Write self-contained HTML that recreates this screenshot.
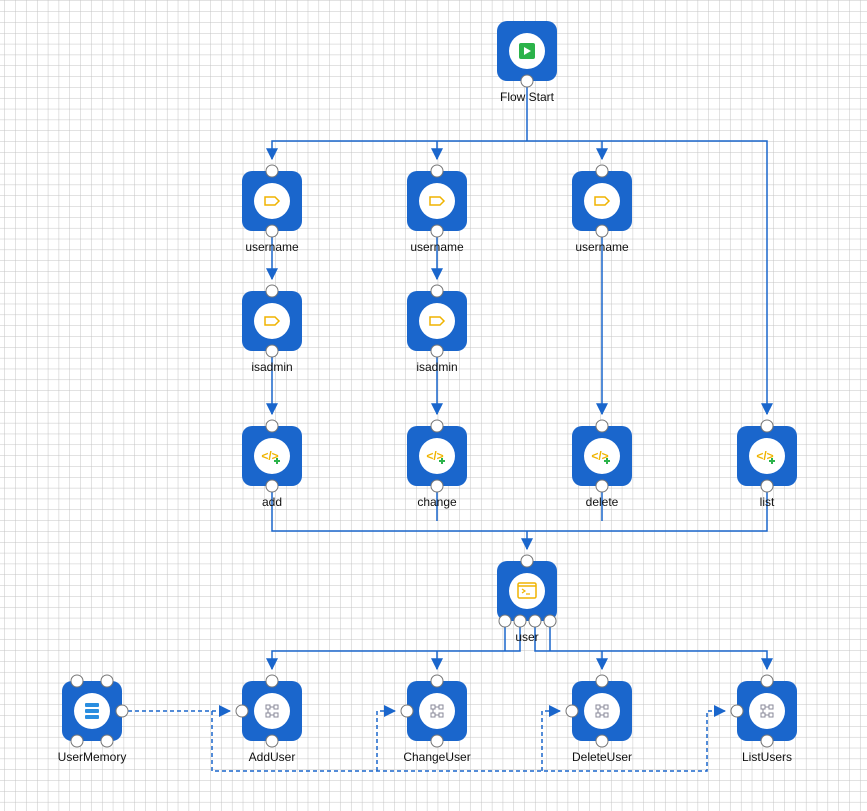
<!DOCTYPE html>
<html><head><meta charset="utf-8"><style>
html,body{margin:0;padding:0;background:#fff}
svg{display:block}
text{font-family:"Liberation Sans",sans-serif;font-size:12px;fill:#111;text-anchor:middle}
</style></head><body>
<svg width="867" height="811" viewBox="0 0 867 811" xmlns="http://www.w3.org/2000/svg">
<defs>
<pattern id="g" x="5" y="1" width="10.83" height="10.83" patternUnits="userSpaceOnUse">
<path d="M10.83 0V10.83M0 10.83H10.83" stroke="#c4c4c4" stroke-width="1" fill="none"/>
</pattern>
<marker id="a" viewBox="0 0 10 10" refX="9" refY="5" markerWidth="12" markerHeight="12" orient="auto" markerUnits="userSpaceOnUse"><path d="M0 0L10 5L0 10z" fill="#1a66cc"/></marker>
<g id="box"><rect x="-30" y="-30" width="60" height="60" rx="10" fill="#1a66cc"/><circle r="18" fill="#fff"/></g>
<g id="tag"><path d="M-7 -4H3L7 0L3 4H-7Z" fill="none" stroke="#f0b400" stroke-width="1.5"/></g>
<g id="code"><text x="0" y="4" style="font-size:12px;fill:#f0b400;font-weight:bold">&lt;/&gt;</text><path d="M4 5H10M7 2V8" stroke="#2bb34a" stroke-width="2"/></g>
<g id="flow"><rect x="-6" y="-6" width="4" height="4" fill="none" stroke="#889"/><rect x="2" y="-6" width="4" height="4" fill="none" stroke="#889"/><rect x="-6" y="2" width="4" height="4" fill="none" stroke="#889"/><rect x="2" y="2" width="4" height="4" fill="none" stroke="#889"/><path d="M-2 -4H2M-2 4H2M-4 -2V2" stroke="#889"/></g>
</defs>
<rect width="867" height="811" fill="url(#g)"/>

<g fill="none" stroke="#1a66cc" stroke-width="1.5">
<path d="M527 81V141"/>
<path d="M272 159V141H767V414"/>
<path d="M437 141V159M602 141V159" />
<path d="M272 231V279M437 231V279M272 351V414M437 351V414M602 231V414"/>
<path d="M272 486V531H767V486M437 486V521M602 486V521M527 531V549"/>
<path d="M505 621V651H272V669M520 621V651H437V669M535 621V651H602V669M550 621V651H767V669"/>
</g>
<g fill="none" stroke="#1a66cc" stroke-width="1.5" marker-end="url(#a)">
<path d="M272 150V159"/><path d="M437 150V159"/><path d="M602 150V159"/><path d="M767 405V414"/>
<path d="M272 270V279"/><path d="M437 270V279"/><path d="M272 405V414"/><path d="M437 405V414"/><path d="M602 405V414"/>
<path d="M527 540V549"/>
<path d="M272 660V669"/><path d="M437 660V669"/><path d="M602 660V669"/><path d="M767 660V669"/>
</g>
<g fill="none" stroke="#1a66cc" stroke-width="1.5" stroke-dasharray="4,3">
<path d="M128 711H230"/>
<path d="M212 711V771H707V711H725"/>
<path d="M377 771V711H395"/>
<path d="M542 771V711H560"/>
</g>
<g fill="#1a66cc"><path d="M219 705L231 711L219 717z"/><path d="M384 705L396 711L384 717z"/><path d="M549 705L561 711L549 717z"/><path d="M714 705L726 711L714 717z"/></g>

<use href="#box" x="527" y="51"/>
<rect x="519" y="43" width="16" height="16" rx="2" fill="#2bb34a"/><path d="M524 47L531 51L524 55z" fill="#fff"/>
<text x="527" y="101">Flow Start</text>

<g>
<use href="#box" x="272" y="201"/><use href="#tag" x="272" y="201"/><text x="272" y="251">username</text>
<use href="#box" x="437" y="201"/><use href="#tag" x="437" y="201"/><text x="437" y="251">username</text>
<use href="#box" x="602" y="201"/><use href="#tag" x="602" y="201"/><text x="602" y="251">username</text>
<use href="#box" x="272" y="321"/><use href="#tag" x="272" y="321"/><text x="272" y="371">isadmin</text>
<use href="#box" x="437" y="321"/><use href="#tag" x="437" y="321"/><text x="437" y="371">isadmin</text>
<use href="#box" x="272" y="456"/><use href="#code" x="270" y="456"/><text x="272" y="506">add</text>
<use href="#box" x="437" y="456"/><use href="#code" x="435" y="456"/><text x="437" y="506">change</text>
<use href="#box" x="602" y="456"/><use href="#code" x="600" y="456"/><text x="602" y="506">delete</text>
<use href="#box" x="767" y="456"/><use href="#code" x="765" y="456"/><text x="767" y="506">list</text>
<use href="#box" x="527" y="591"/>
<rect x="518" y="583" width="18" height="15" rx="1.5" fill="none" stroke="#f0b400" stroke-width="1.5"/><path d="M518 586H536" stroke="#f0b400" stroke-width="1.5"/><path d="M522 589L525 591L522 593M526 594H530" stroke="#f0b400" stroke-width="1.2" fill="none"/>
<text x="527" y="641">user</text>
<use href="#box" x="92" y="711"/>
<rect x="85" y="703" width="14" height="4" rx="1" fill="#2a8ee0"/><rect x="85" y="709" width="14" height="4" rx="1" fill="#2a8ee0"/><rect x="85" y="715" width="14" height="4" rx="1" fill="#2a8ee0"/>
<text x="92" y="761">UserMemory</text>
<use href="#box" x="272" y="711"/><use href="#flow" x="272" y="711"/><text x="272" y="761">AddUser</text>
<use href="#box" x="437" y="711"/><use href="#flow" x="437" y="711"/><text x="437" y="761">ChangeUser</text>
<use href="#box" x="602" y="711"/><use href="#flow" x="602" y="711"/><text x="602" y="761">DeleteUser</text>
<use href="#box" x="767" y="711"/><use href="#flow" x="767" y="711"/><text x="767" y="761">ListUsers</text>
</g>

<g fill="#fff" stroke="#777" stroke-width="1">
<circle cx="527" cy="81" r="6"/>
<circle cx="272" cy="171" r="6"/><circle cx="272" cy="231" r="6"/>
<circle cx="437" cy="171" r="6"/><circle cx="437" cy="231" r="6"/>
<circle cx="602" cy="171" r="6"/><circle cx="602" cy="231" r="6"/>
<circle cx="272" cy="291" r="6"/><circle cx="272" cy="351" r="6"/>
<circle cx="437" cy="291" r="6"/><circle cx="437" cy="351" r="6"/>
<circle cx="272" cy="426" r="6"/><circle cx="272" cy="486" r="6"/>
<circle cx="437" cy="426" r="6"/><circle cx="437" cy="486" r="6"/>
<circle cx="602" cy="426" r="6"/><circle cx="602" cy="486" r="6"/>
<circle cx="767" cy="426" r="6"/><circle cx="767" cy="486" r="6"/>
<circle cx="527" cy="561" r="6"/>
<circle cx="505" cy="621" r="6"/><circle cx="520" cy="621" r="6"/><circle cx="535" cy="621" r="6"/><circle cx="550" cy="621" r="6"/>
<circle cx="77" cy="681" r="6"/><circle cx="107" cy="681" r="6"/><circle cx="77" cy="741" r="6"/><circle cx="107" cy="741" r="6"/><circle cx="122" cy="711" r="6"/>
<circle cx="272" cy="681" r="6"/><circle cx="272" cy="741" r="6"/><circle cx="242" cy="711" r="6"/>
<circle cx="437" cy="681" r="6"/><circle cx="437" cy="741" r="6"/><circle cx="407" cy="711" r="6"/>
<circle cx="602" cy="681" r="6"/><circle cx="602" cy="741" r="6"/><circle cx="572" cy="711" r="6"/>
<circle cx="767" cy="681" r="6"/><circle cx="767" cy="741" r="6"/><circle cx="737" cy="711" r="6"/>
</g>
</svg>
</body></html>
